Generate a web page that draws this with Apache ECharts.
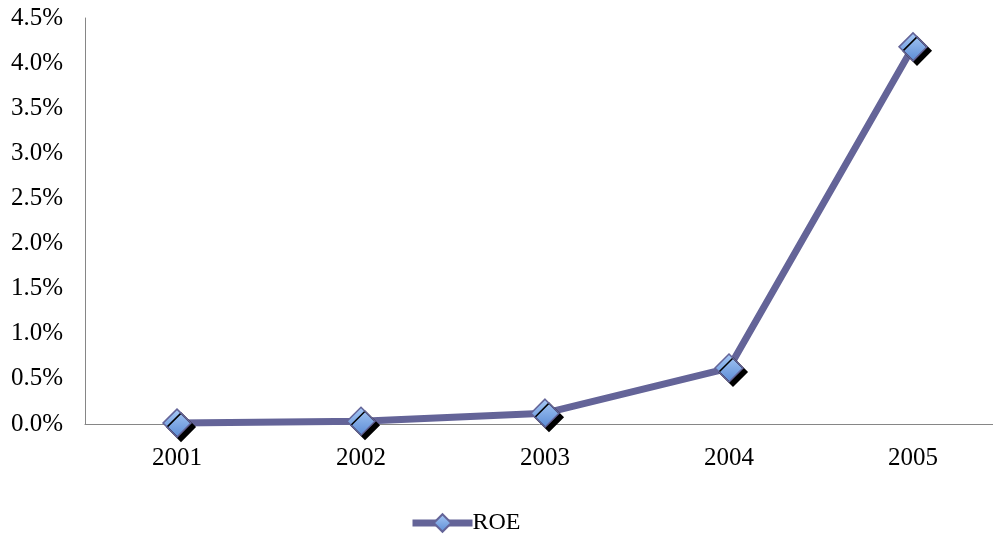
<!DOCTYPE html>
<html>
<head>
<meta charset="utf-8">
<script src="https://cdn.jsdelivr.net/npm/echarts@6/dist/echarts.min.js"></script>
<style>
  html, body { margin: 0; padding: 0; background: #fff; }
  #chart { width: 993px; height: 535px; }
</style>
</head>
<body>
<div id="chart"></div>
<script>
// Return on equity by year, in percent
const years = ['2001', '2002', '2003', '2004', '2005'];
const roe = [0.01, 0.03, 0.12, 0.62, 4.18];
const seriesName = 'ROE';

const chart = echarts.init(document.getElementById('chart'));
const fontFamily = '"Liberation Serif", "DejaVu Serif", serif';
const lineColor = '#646498';

chart.setOption({
  animation: false,
  // the plot runs a little past the right edge of the canvas
  grid: { left: 85, width: 920, top: 18, bottom: 111, outerBoundsMode: 'none', containLabel: false },
  xAxis: {
    type: 'category',
    data: years,
    axisLine: { lineStyle: { color: '#868686', width: 1 } },
    axisTick: { show: false },
    axisLabel: { color: '#000', fontFamily, fontSize: 25, margin: 22 }
  },
  yAxis: {
    type: 'value',
    min: 0,
    max: 4.5,
    interval: 0.5,
    axisLine: { show: true, lineStyle: { color: '#868686', width: 1 } },
    axisTick: { show: false },
    splitLine: { show: false },
    axisLabel: {
      color: '#000', fontFamily, fontSize: 25, margin: 22,
      formatter: v => v.toFixed(1) + '%'
    }
  },
  legend: {
    top: 511,
    left: 409,
    padding: 0,
    itemWidth: 60,
    itemHeight: 22,
    itemGap: 4,
    textStyle: { color: '#000', fontFamily, fontSize: 24, padding: [2, 0, 0, -5] },
    lineStyle: { width: 7, color: lineColor },
    itemStyle: { shadowColor: 'rgba(0,0,0,0)', shadowOffsetX: 0, shadowOffsetY: 0 },
    data: [seriesName]
  },
  series: [{
    name: seriesName,
    type: 'line',
    data: roe,
    symbol: 'diamond',
    symbolSize: 28,
    lineStyle: { color: lineColor, width: 7 },
    itemStyle: {
      color: {
        type: 'linear', x: 0, y: 0, x2: 0, y2: 1,
        colorStops: [
          { offset: 0, color: '#A8CAF6' },
          { offset: 1, color: '#5A8AD4' }
        ]
      },
      borderColor: lineColor,
      borderWidth: 1.5,
      shadowColor: '#000',
      shadowBlur: 0,
      shadowOffsetX: 4,
      shadowOffsetY: 4
    },
    emphasis: { disabled: true }
  }]
});
</script>
</body>
</html>
